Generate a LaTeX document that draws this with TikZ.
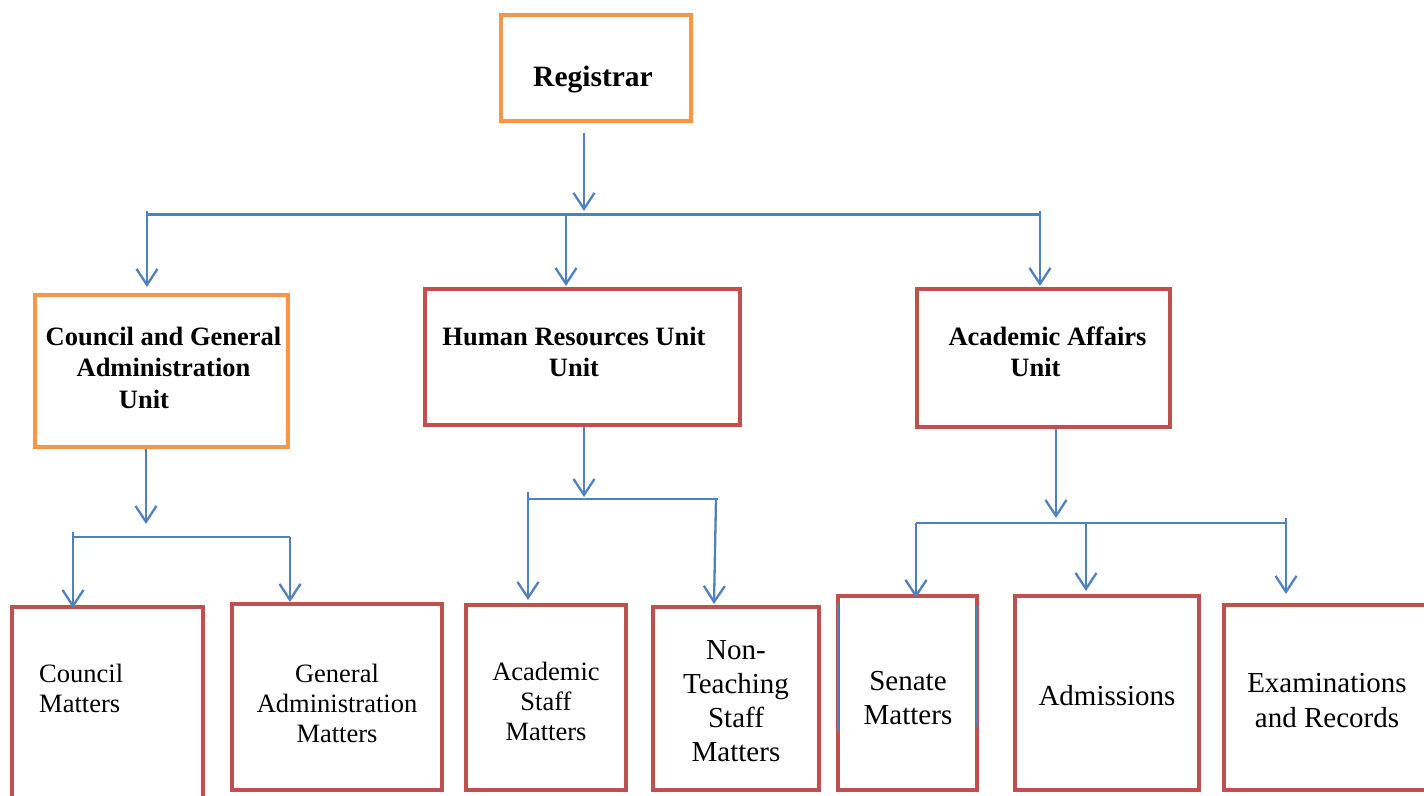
\documentclass[tikz,border=0pt]{standalone}
\usepackage{fontspec}
\setmainfont{Liberation Serif}
\usetikzlibrary{arrows.meta,calc}
\definecolor{orng}{HTML}{F79646}
\definecolor{rd}{HTML}{C0504D}
\definecolor{bl}{HTML}{4F81BD}
\begin{document}
\begin{tikzpicture}[x=1pt,y=-1pt,
  obox/.style={draw=orng,line width=4.5pt,rectangle,inner sep=0pt,outer sep=0pt},
  rbox/.style={draw=rd,line width=4.5pt,rectangle,inner sep=0pt,outer sep=0pt},
  conn/.style={draw=bl,line width=2.3pt},
  arr/.style={conn,-{Straight Barb[length=16pt,width=21pt]}},
  ttl/.style={font=\fontsize{26.5}{31.5}\selectfont\bfseries,align=center,inner sep=0pt},
  txt/.style={font=\fontsize{26.5}{30}\selectfont,align=center,inner sep=0pt},
  big/.style={font=\fontsize{29}{34.5}\selectfont,align=center,inner sep=0pt},
 ]
\useasboundingbox (0,0) rectangle (1424,795);
\clip (0,0) rectangle (1424,795);
\fill[white] (0,0) rectangle (1424,795);

% boxes
\node[obox,minimum width=190pt,minimum height=106pt] (reg) at (596,68) {};
\node[obox,minimum width=253pt,minimum height=152pt] (cgu) at (161.5,371) {};
\node[rbox,minimum width=315pt,minimum height=136pt] (hru) at (582.5,357) {};
\node[rbox,minimum width=253pt,minimum height=138pt] (aau) at (1043.5,358) {};
\node[rbox,minimum width=191pt,minimum height=223pt] (cm) at (107.5,718.5) {};
\node[rbox,minimum width=210pt,minimum height=186pt] (gam) at (337,697) {};
\node[rbox,minimum width=160pt,minimum height=185pt] (asm) at (546,697.5) {};
\node[rbox,minimum width=166pt,minimum height=183pt] (ntm) at (736,698.5) {};
\node[rbox,minimum width=139pt,minimum height=194pt] (sm) at (907.5,693) {};
\node[rbox,minimum width=184pt,minimum height=194pt] (adm) at (1107,693) {};
\node[rbox,minimum width=216pt,minimum height=185pt] (er) at (1332,697.5) {};

% texts
\node[font=\fontsize{29.5}{34}\selectfont\bfseries,inner sep=0pt,anchor=base] (regt) at (593,86) {Registrar};
\node[ttl] (cgut) at (163.5,367.5) {Council and General\\Administration\\Unit\hspace*{39pt}};
\node[ttl] (hrut) at (574,352) {Human Resources Unit\\Unit};
\node[ttl] (aaut) at (1047.5,352) {Academic Affairs\\Unit\hspace*{24pt}};
\node[txt,align=left,anchor=west] (cmt) at (39,688.5) {Council\\Matters};
\node[txt] (gamt) at (337,703.6) {General\\Administration\\Matters};
\node[txt] (asmt) at (546,701.3) {Academic\\Staff\\Matters};
\node[big,font=\fontsize{29}{34}\selectfont] (ntmt) at (736,701.5) {Non-\\Teaching\\Staff\\Matters};
\node[big] (smt) at (908,698) {Senate\\Matters};
\node[big,anchor=base] (admt) at (1107,705) {Admissions};
\node[big] (ert) at (1327,700.5) {Examinations\\and Records};

% level 0
\coordinate (t0) at (584,211);
\coordinate (b0a) at (147,214.5);
\coordinate (b0b) at (1040,214.5);
\coordinate (b0m) at (566,214.5);
\draw[arr,shorten <=12pt] (reg.south -| t0) -- (t0);
\draw[conn] (b0a) -- (b0b);
\draw[arr,shorten >=8pt] ([yshift=4pt]b0a) -- (b0a |- cgu.north);
\draw[arr,shorten >=3pt] ([yshift=2pt]b0m) -- (b0m |- hru.north);
\draw[arr,shorten >=3pt] ([yshift=4pt]b0b) -- (b0b |- aau.north);

% council branch
\coordinate (t1) at (146,524);
\coordinate (b1a) at (73,537);
\coordinate (b1b) at (290,537);
\draw[arr,shorten <=2pt] (cgu.south -| t1) -- (t1);
\draw[conn] (b1a) -- (b1b);
\draw[arr,shorten >=-1pt] ([yshift=5pt]b1a) -- (b1a |- cm.north);
\draw[arr,shorten >=2pt] (b1b) -- (b1b |- gam.north);

% HR branch
\coordinate (t2) at (584,497);
\coordinate (b2a) at (528,499);
\coordinate (b2b) at (718,499);
\coordinate (b2c) at (716,499);
\coordinate (t2r) at (714,604);
\draw[arr,shorten <=2pt] (hru.south -| t2) -- (t2);
\draw[conn] (b2a) -- (b2b);
\draw[arr,shorten >=5pt] ([yshift=7pt]b2a) -- (b2a |- asm.north);
\draw[arr] (b2c) -- (t2r);

% academic branch
\coordinate (t3) at (1056,518);
\coordinate (b3a) at (916,523);
\coordinate (b3b) at (1286,523);
\coordinate (b3m) at (1086,523);
\draw[arr,shorten <=2pt] (aau.south -| t3) -- (t3);
\draw[conn] (b3a) -- (b3b);
\draw[arr,shorten >=-2pt] (b3a) -- (b3a |- sm.north);
\draw[arr,shorten >=5pt] (b3m) -- (b3m |- adm.north);
\draw[arr,shorten >=11pt] ([yshift=5pt]b3b) -- (b3b |- er.north);

% stray blue strokes on the Senate box
\draw[bl,line width=1.8pt] ([yshift=-7pt]sm.north west) -- ([yshift=-136pt]sm.north west);
\draw[bl,line width=1.8pt] ([yshift=-9pt]sm.north east) -- ([yshift=-131pt]sm.north east);
\end{tikzpicture}
\end{document}
